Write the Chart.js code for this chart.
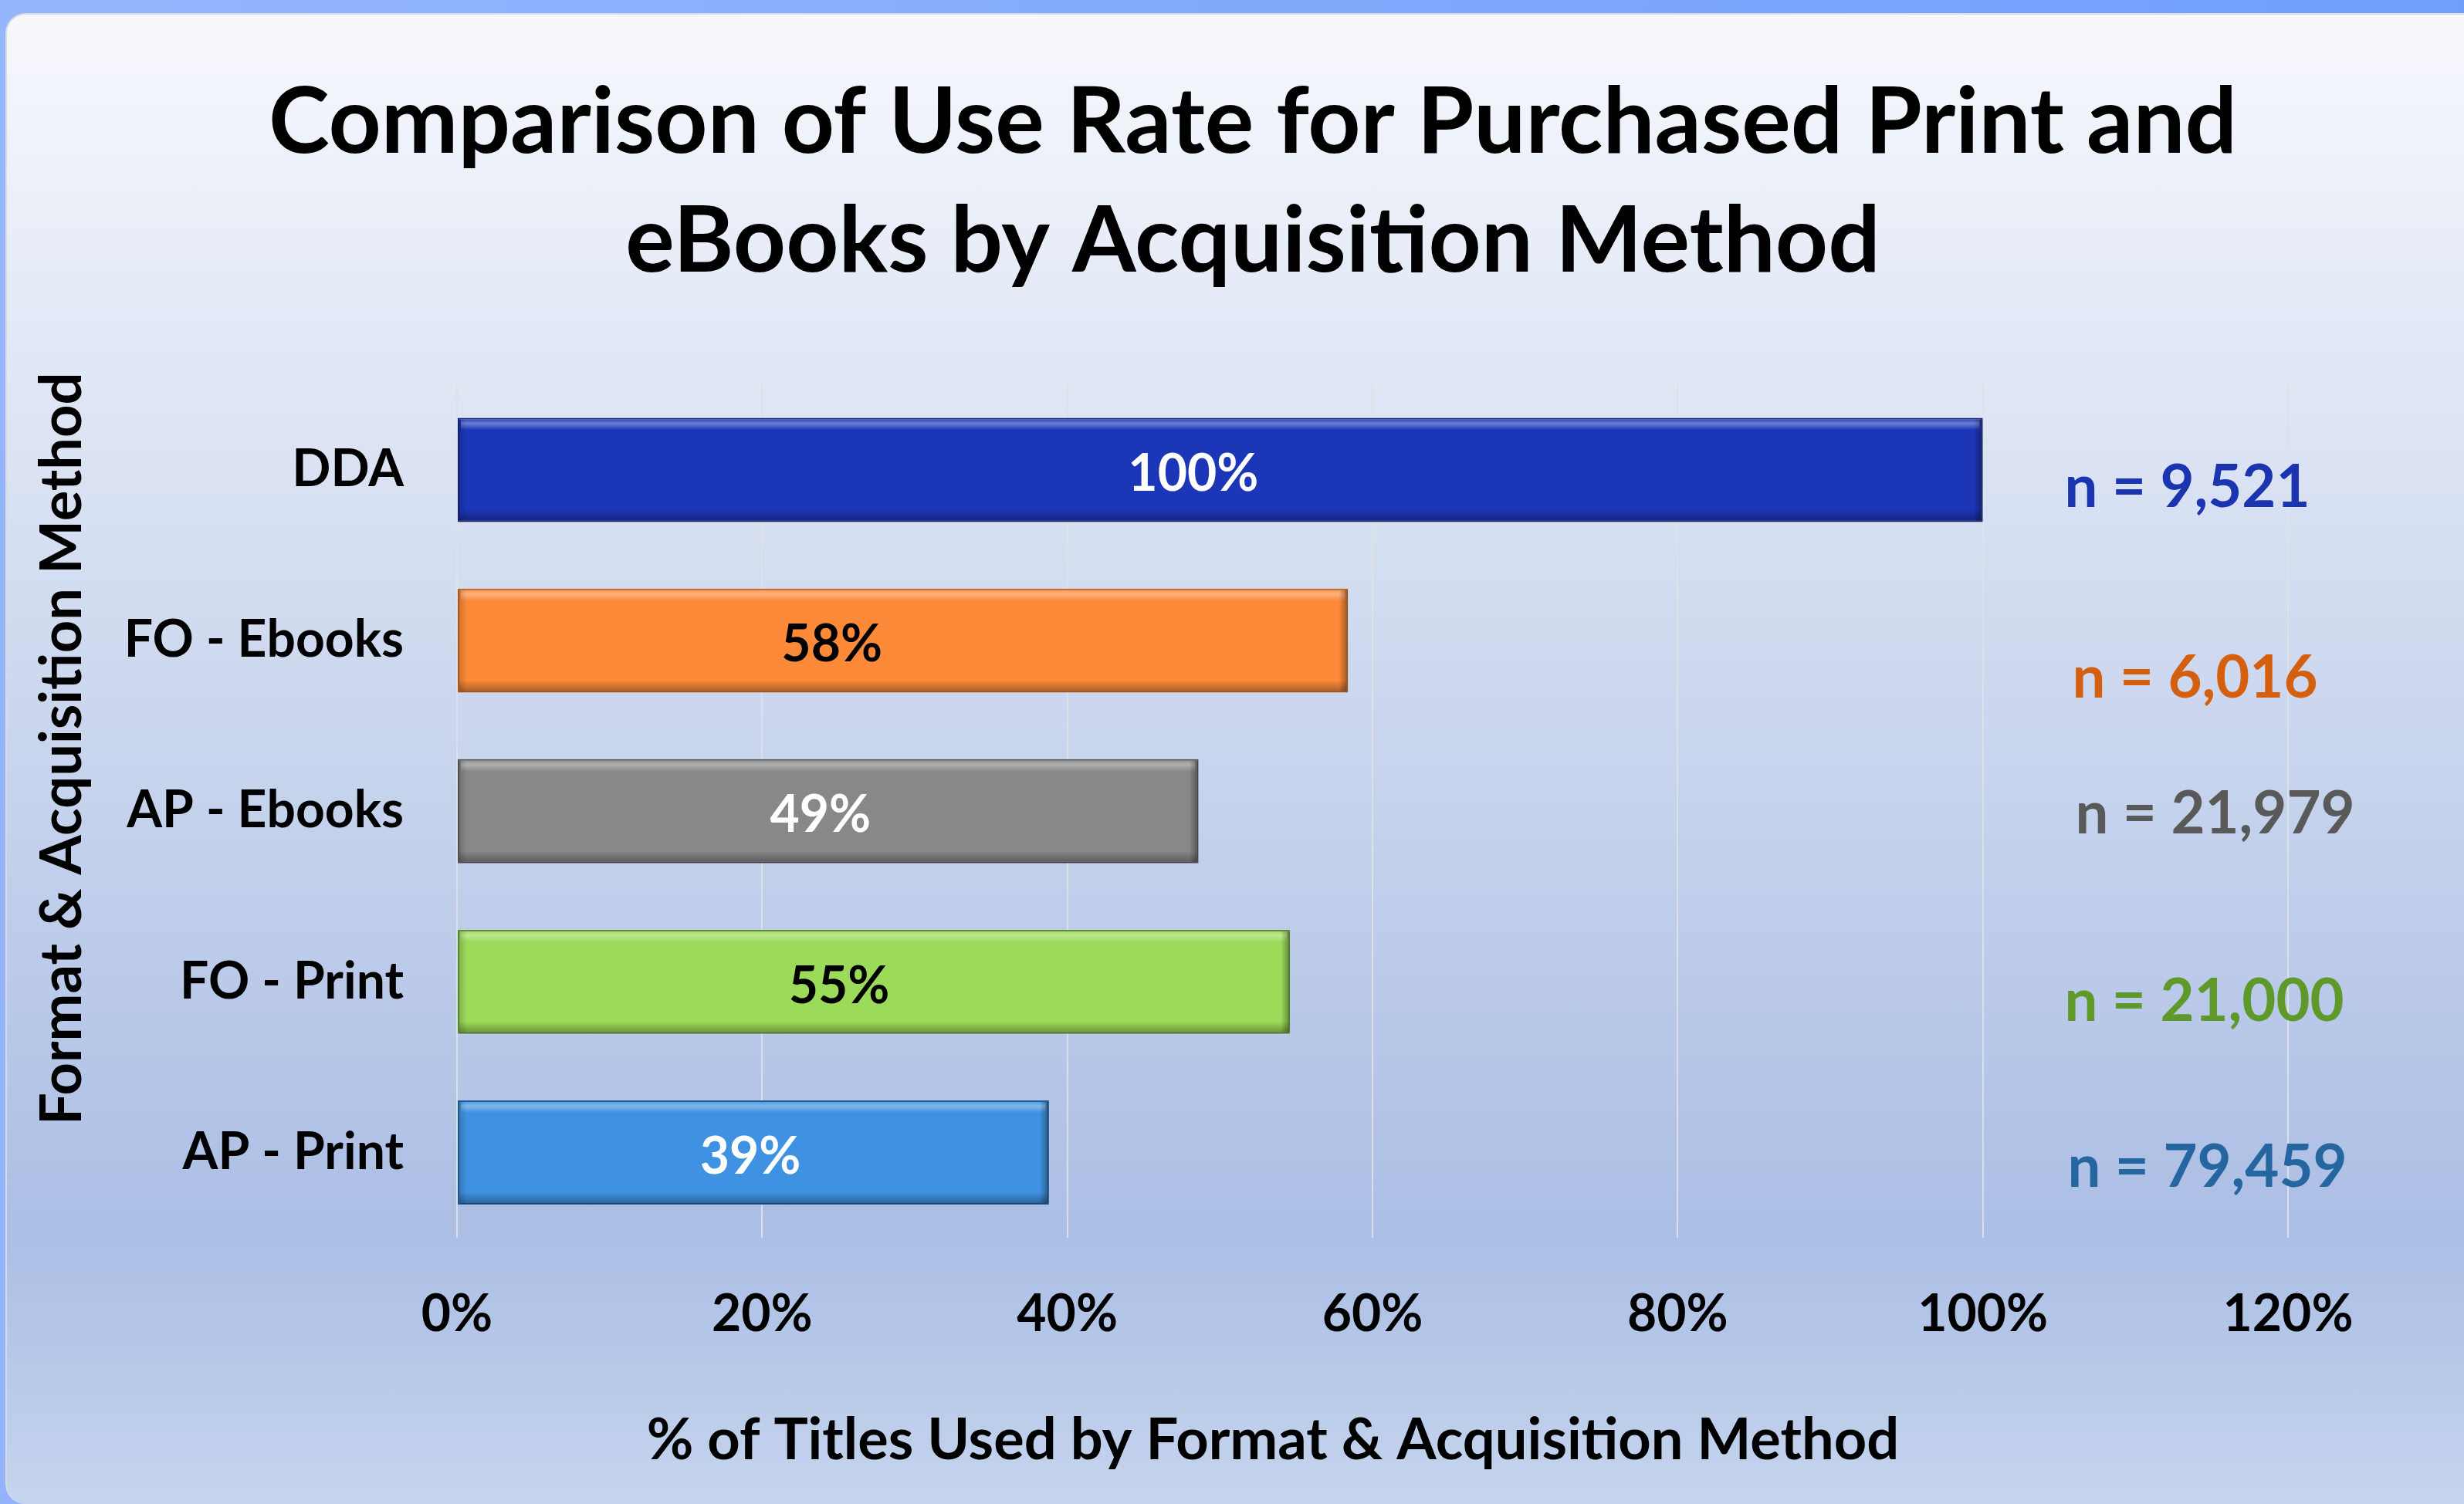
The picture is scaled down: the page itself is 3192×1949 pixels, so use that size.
<!DOCTYPE html>
<html>
<head>
<meta charset="utf-8">
<title>Comparison of Use Rate for Purchased Print and eBooks</title>
<script src="https://cdn.jsdelivr.net/npm/chart.js@4.4.1/dist/chart.umd.min.js"></script>
<style>
  html, body { margin: 0; padding: 0; }
  body {
    width: 3192px; height: 1949px; overflow: hidden; position: relative;
    background: linear-gradient(100deg, #96b6fc, #6a9cfc);
  }
  #card {
    position: absolute; left: 7px; top: 17px; right: 0; bottom: 0;
    border-top: 2px solid #d9dbe0; border-left: 2px solid #d9dbe0;
    border-radius: 26px 0 0 26px;
    background: linear-gradient(to bottom, #f6f8fc 0%, #abbee4 82%, #c5d5ee 100%);
  }
  #chart { position: absolute; left: 0; top: 0; }
</style>
</head>
<body>
<div id="card"></div>
<canvas id="chart" width="3192" height="1949"></canvas>
<script>
// Data
const categories = ["DDA", "FO - Ebooks", "AP - Ebooks", "FO - Print", "AP - Print"];
const useRate = [100, 58.4, 48.6, 54.6, 38.8];
const sampleSizes = [9521, 6016, 21979, 21000, 79459];
const xTicks = [0, 20, 40, 60, 80, 100, 120];

const xTitle = "% of Titles Used by Format & Acquisition Method";
const yTitle = "Format & Acquisition Method";

// Colours
const barColors = ["#1c36b8", "#fd8a38", "#888888", "#9bdb59", "#3f92e1"];
const barEdges = ["#14247a", "#b85e1e", "#555555", "#5f8f33", "#235d97"];
const valueColors = ["#ffffff", "#000000", "#ffffff", "#000000", "#ffffff"];
const nColors = ["#1b35b0", "#d4600f", "#595959", "#5e992a", "#2565a0"];

const FONT = "Lato, 'Open Sans', sans-serif";
const labelFont = { family: FONT, weight: "bold", size: 66, lineHeight: 1.2 };

// bevel look + value labels + n labels
const barExtras = {
  id: "barExtras",
  afterDatasetsDraw(chart, args, opts) {
    const ctx = chart.ctx;
    const meta = chart.getDatasetMeta(0);
    const xs = chart.scales.x;
    meta.data.forEach((bar, i) => {
      const p = bar.getProps(["x", "y", "base", "height"], true);
      const l = Math.min(p.base, p.x), r = Math.max(p.base, p.x);
      const t = p.y - p.height / 2, b = p.y + p.height / 2;
      ctx.save();
      let g = ctx.createLinearGradient(0, t, 0, t + 16);
      g.addColorStop(0, "rgba(255,255,255,0)");
      g.addColorStop(0.45, "rgba(255,255,255,0.35)");
      g.addColorStop(1, "rgba(255,255,255,0)");
      ctx.fillStyle = g;
      ctx.fillRect(l + 4, t + 2, r - l - 8, 16);
      g = ctx.createLinearGradient(0, b - 16, 0, b);
      g.addColorStop(0, "rgba(0,0,0,0)");
      g.addColorStop(1, "rgba(0,0,0,0.35)");
      ctx.fillStyle = g;
      ctx.fillRect(l + 2, b - 16, r - l - 4, 15);
      g = ctx.createLinearGradient(r - 12, 0, r, 0);
      g.addColorStop(0, "rgba(0,0,0,0)");
      g.addColorStop(1, "rgba(0,0,0,0.4)");
      ctx.fillStyle = g;
      ctx.fillRect(r - 12, t + 2, 11, p.height - 4);
      g = ctx.createLinearGradient(l, 0, l + 12, 0);
      g.addColorStop(0, "rgba(0,0,0,0.2)");
      g.addColorStop(1, "rgba(0,0,0,0)");
      ctx.fillStyle = g;
      ctx.fillRect(l + 1, t + 2, 12, p.height - 4);

      // value inside bar
      ctx.font = "bold 66px " + FONT;
      ctx.textAlign = "center";
      ctx.textBaseline = "middle";
      ctx.fillStyle = valueColors[i];
      ctx.fillText(Math.round(useRate[i]) + "%", (l + r) / 2 + opts.valueDx[i], p.y + 6);

      // n = ... annotation on the right
      ctx.font = "bold 76px " + FONT;
      ctx.fillStyle = nColors[i];
      ctx.fillText("n = " + sampleSizes[i].toLocaleString("en-US"),
        xs.getPixelForValue(opts.nAt) + opts.nDx[i], p.y + opts.nDy[i]);
      ctx.restore();
    });
  }
};

// axis titles drawn by hand so they can sit where the original has them
const axisTitles = {
  id: "axisTitles",
  afterDraw(chart) {
    const ctx = chart.ctx;
    const area = chart.chartArea;
    ctx.save();
    ctx.font = "bold 74px " + FONT;
    ctx.fillStyle = "#000";
    ctx.textBaseline = "middle";
    ctx.textAlign = "center";
    ctx.fillText(xTitle, 1649, 1867);
    ctx.translate(81, area.top - 16);
    ctx.rotate(-Math.PI / 2);
    ctx.textAlign = "right";
    ctx.fillText(yTitle, 0, 0);
    ctx.restore();
  }
};

function draw() {
  new Chart(document.getElementById("chart"), {
    type: "bar",
    data: {
      labels: categories,
      datasets: [{
        data: useRate,
        backgroundColor: barColors,
        borderColor: barEdges,
        borderWidth: 2,
        borderSkipped: false,
        barPercentage: 0.61,
        categoryPercentage: 1
      }]
    },
    options: {
      indexAxis: "y",
      responsive: false,
      devicePixelRatio: 1,
      animation: false,
      layout: { padding: { left: 54, right: 0, top: 0, bottom: 0 } },
      plugins: {
        legend: { display: false },
        tooltip: { enabled: false },
        title: {
          display: true,
          text: ["Comparison of Use Rate for Purchased Print and", "eBooks by Acquisition Method"],
          color: "#000",
          font: { family: FONT, weight: "bold", size: 119, lineHeight: 1.3 },
          padding: { top: 82, bottom: 107 }
        },
        barExtras: {
          nAt: 113.4,
          nDx: [0, 10, 36, 22, 26],
          nDy: [24, 49, 4, 26, 20],
          valueDx: [-35, -92, -10, -45, -4]
        }
      },
      scales: {
        x: {
          min: 0, max: 120,
          afterBuildTicks: s => { s.ticks = xTicks.map(v => ({ value: v })); },
          afterFit: s => { s.height = 345; },
          ticks: { callback: v => v + "%", color: "#000", font: labelFont, padding: 60, maxRotation: 0 },
          grid: { color: "rgba(222,224,228,0.95)", lineWidth: 2, drawTicks: false },
          border: { display: false }
        },
        y: {
          afterFit: s => { s.width = 538; },
          ticks: { color: "#000", font: labelFont, padding: 61 },
          grid: { display: false },
          border: { display: false }
        },
        // empty scale on the right keeps room for the n labels
        yRight: {
          type: "category",
          position: "right",
          afterFit: s => { s.width = 228; },
          ticks: { display: false },
          grid: { display: false },
          border: { display: false }
        }
      }
    },
    plugins: [barExtras, axisTitles]
  });
}

document.fonts.load("bold 66px Lato").then(draw, draw);
</script>
</body>
</html>
